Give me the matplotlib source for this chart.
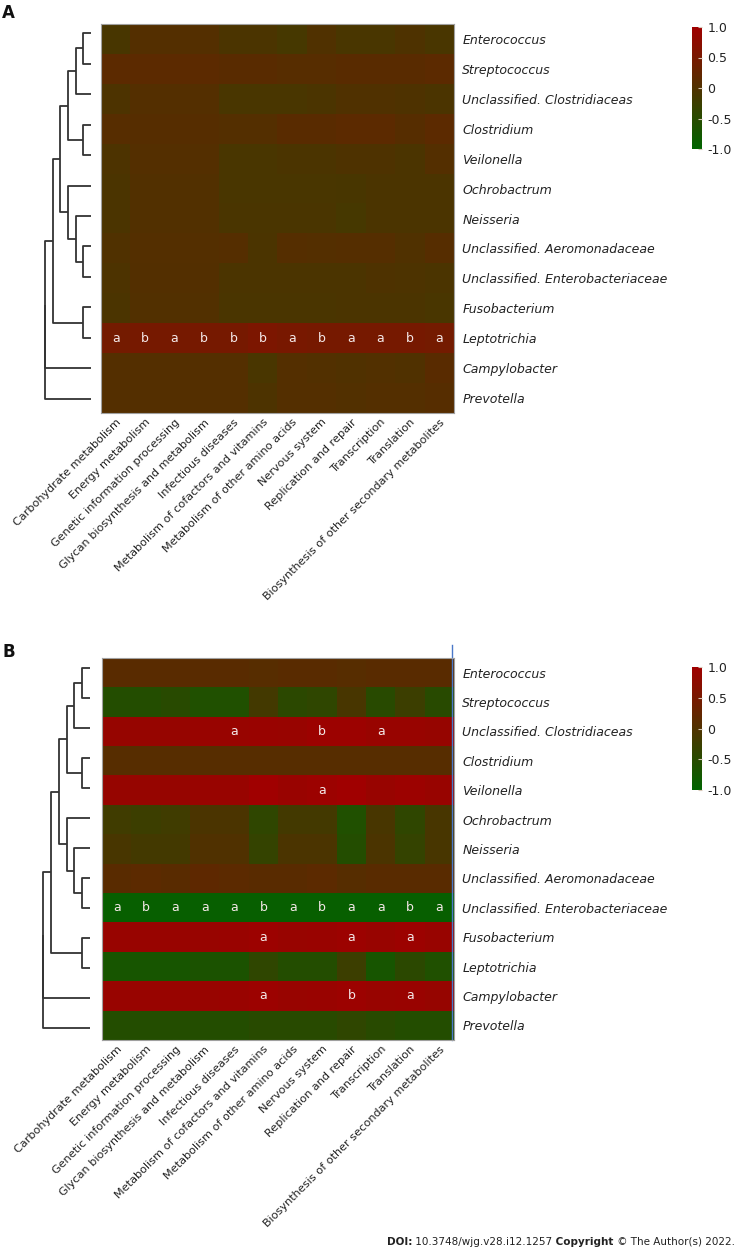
import matplotlib
matplotlib.use("Agg")
import matplotlib.pyplot as plt
import numpy as np
from matplotlib.colors import LinearSegmentedColormap
from matplotlib.text import Annotation

# pathways (columns) and genera (rows)
pathways = ["Carbohydrate metabolism", "Energy metabolism", "Genetic information processing",
            "Glycan biosynthesis and metabolism", "Infectious diseases",
            "Metabolism of cofactors and vitamins", "Metabolism of other amino acids",
            "Nervous system", "Replication and repair", "Transcription", "Translation",
            "Biosynthesis of other secondary metabolites"]
genera = ["Enterococcus", "Streptococcus", "Unclassified. Clostridiaceas", "Clostridium",
          "Veilonella", "Ochrobactrum", "Neisseria", "Unclassified. Aeromonadaceae",
          "Unclassified. Enterobacteriaceae", "Fusobacterium", "Leptotrichia",
          "Campylobacter", "Prevotella"]

# correlation values, panel A
corr_a = [
    [-0.10, 0.05, 0.05, 0.05, -0.05, -0.05, -0.12, 0.00, -0.08, -0.08, -0.02, -0.08],
    [0.15, 0.15, 0.15, 0.15, 0.12, 0.12, 0.10, 0.10, 0.12, 0.12, 0.12, 0.15],
    [-0.03, 0.05, 0.05, 0.05, -0.08, -0.08, -0.08, -0.06, 0.00, 0.00, -0.02, -0.05],
    [0.10, 0.08, 0.08, 0.08, 0.05, 0.05, 0.12, 0.12, 0.15, 0.15, 0.08, 0.15],
    [-0.03, 0.05, 0.05, 0.05, -0.08, -0.08, -0.05, -0.05, -0.02, -0.02, -0.05, 0.05],
    [-0.05, 0.03, 0.03, 0.03, -0.08, -0.08, -0.08, -0.08, -0.10, -0.05, -0.05, -0.05],
    [-0.05, 0.03, 0.03, 0.03, -0.07, -0.07, -0.07, -0.07, -0.12, -0.06, -0.05, -0.05],
    [0.00, 0.05, 0.05, 0.05, 0.07, -0.05, 0.07, 0.05, 0.07, 0.07, 0.00, 0.08],
    [-0.03, 0.04, 0.04, 0.04, -0.06, -0.06, -0.06, -0.06, -0.05, -0.02, -0.03, -0.05],
    [-0.05, 0.03, 0.03, 0.03, -0.07, -0.07, -0.07, -0.07, -0.05, -0.05, -0.05, -0.08],
    [0.45, 0.48, 0.48, 0.48, 0.48, 0.55, 0.50, 0.48, 0.48, 0.48, 0.48, 0.45],
    [0.05, 0.05, 0.05, 0.05, 0.05, -0.08, 0.05, 0.03, 0.00, 0.03, 0.00, 0.12],
    [0.05, 0.05, 0.05, 0.05, 0.05, -0.03, 0.05, 0.05, 0.03, 0.05, 0.05, 0.08],
]

# correlation values, panel B
corr_b = [
    [0.12, 0.12, 0.12, 0.12, 0.12, 0.10, 0.12, 0.12, 0.10, 0.12, 0.12, 0.12],
    [-0.55, -0.55, -0.50, -0.60, -0.60, -0.15, -0.45, -0.40, -0.10, -0.50, -0.25, -0.50],
    [0.88, 0.88, 0.88, 0.90, 0.90, 0.92, 0.90, 0.95, 0.95, 0.90, 0.90, 0.88],
    [0.10, 0.10, 0.10, 0.10, 0.10, 0.10, 0.10, 0.10, 0.10, 0.10, 0.10, 0.10],
    [0.88, 0.88, 0.88, 0.90, 0.90, 1.00, 0.92, 0.95, 1.00, 0.90, 0.95, 0.90],
    [-0.20, -0.25, -0.20, -0.05, -0.05, -0.40, -0.15, -0.15, -0.60, -0.10, -0.40, -0.10],
    [-0.10, -0.15, -0.15, 0.00, 0.00, -0.35, -0.05, -0.05, -0.55, -0.05, -0.35, -0.10],
    [0.12, 0.15, 0.12, 0.18, 0.15, 0.12, 0.12, 0.15, 0.08, 0.12, 0.12, 0.12],
    [-0.90, -0.90, -0.90, -0.90, -0.90, -0.90, -0.90, -0.90, -0.90, -0.90, -0.90, -0.90],
    [0.90, 0.90, 0.90, 0.90, 0.92, 0.95, 0.90, 0.92, 0.95, 0.90, 0.95, 0.90],
    [-0.70, -0.70, -0.70, -0.65, -0.65, -0.40, -0.55, -0.55, -0.25, -0.70, -0.45, -0.60],
    [0.90, 0.90, 0.90, 0.90, 0.92, 0.95, 0.90, 0.92, 0.95, 0.90, 0.92, 0.88],
    [-0.55, -0.55, -0.55, -0.55, -0.55, -0.50, -0.50, -0.50, -0.40, -0.50, -0.55, -0.55],
]

# significance letters ('.' = none)
sig_a = ["............"] * 10 + ["ababbbabaaba"] + ["............"] * 2
sig_b = ["............", "............", "....a..b.a..", "............",
         ".......a....", "............", "............", "............",
         "abaaababaaba", ".....a..a.a.", "............", ".....a..b.a.",
         "............"]

# row clustering (scipy-style linkage: left, right, height)
merges = [(0, 1, 1), (13, 2, 2), (3, 4, 1), (14, 15, 3), (7, 8, 1), (6, 17, 2),
          (5, 18, 3), (16, 19, 4), (9, 10, 1), (20, 21, 5), (22, 11, 6), (23, 12, 6)]

W, H = 737, 1251
fig = plt.figure(figsize=(W / 100, H / 100), dpi=100)
cmap = LinearSegmentedColormap.from_list("gr", ["#006400", "#a00000"])


def px_axes(l, t, r, b):
    return fig.add_axes([l / W, 1 - b / H, (r - l) / W, (b - t) / H])


def draw_dendro(ax):
    n = len(genera)
    pos = {i: float(i) for i in range(n)}
    hgt = {i: 0.0 for i in range(n)}
    for k, (a, b, h) in enumerate(merges):
        ax.plot([hgt[a], h, h, hgt[b]], [pos[a], pos[a], pos[b], pos[b]],
                color="#333333", lw=1.3, solid_capstyle="butt", clip_on=False)
        pos[n + k] = (pos[a] + pos[b]) / 2
        hgt[n + k] = h
    ax.set_xlim(6, 0)
    ax.set_ylim(n - 0.5, -0.5)
    ax.axis("off")


def draw_panel(values, sig, heat_box, dendro_box, cbar_box, letter, letter_y):
    ax = px_axes(*heat_box)
    im = ax.imshow(np.array(values), cmap=cmap, vmin=-1, vmax=1, aspect="auto",
                   interpolation="nearest")
    for i, row in enumerate(sig):
        for j, ch in enumerate(row):
            if ch != ".":
                ax.text(j, i, ch, ha="center", va="center", color="#f4e8e8", fontsize=9)
    ax.set_xticks(range(len(pathways)))
    ax.set_xticklabels(pathways, rotation=45, ha="right", rotation_mode="anchor",
                       fontsize=8.1, color="#222222")
    ax.set_yticks(range(len(genera)))
    ax.set_yticklabels(genera, fontsize=9, style="italic", color="#222222")
    ax.yaxis.tick_right()
    ax.tick_params(length=0, pad=3)
    ax.tick_params(axis="y", pad=6)
    for s in ax.spines.values():
        s.set_color("#a0a0a0")
        s.set_linewidth(0.8)

    dax = px_axes(*dendro_box)
    draw_dendro(dax)

    cax = px_axes(*cbar_box)
    cb = fig.colorbar(im, cax=cax, ticks=[-1, -0.5, 0, 0.5, 1])
    cb.ax.set_yticklabels(["-1.0", "-0.5", "0", "0.5", "1.0"])
    cb.outline.set_visible(False)
    cax.tick_params(length=3, width=0.8, color="#d8c8b8", direction="in",
                    labelsize=9, pad=4, labelcolor="#222222")

    fig.text(2 / W, 1 - letter_y / H, letter, fontsize=12, fontweight="bold",
             va="top", ha="left", color="#111111")
    return ax


draw_panel(corr_a, sig_a, (101, 24, 454, 413), (45, 18, 91, 414),
           (692, 27, 702, 149), "A", 4)
ax_b = draw_panel(corr_b, sig_b, (102, 658, 454, 1040), (43, 653, 90, 1043),
                  (692, 667, 702, 790), "B", 643)

# stray blue guide line at the right edge of panel B
ax_b.plot([0.994, 0.994], [0, 1.035], transform=ax_b.transAxes, color="#4a78c8",
          lw=1.0, clip_on=False)

# footer, built from pieces chained left to right
fs = 7.5
last = fig.text(387 / W, 1 - 1247 / H, "DOI:", fontsize=fs, fontweight="bold",
                va="bottom", ha="left", color="#222222")
for piece, wt in [(" 10.3748/wjg.v28.i12.1257", "normal"), (" Copyright", "bold"),
                  (" \u00a9 The Author(s) 2022.", "normal")]:
    ann = Annotation(piece, xy=(1, 0), xycoords=last, fontsize=fs, fontweight=wt,
                     va="bottom", ha="left", color="#222222")
    fig.add_artist(ann)
    last = ann

fig.savefig("out.png", dpi=100)
